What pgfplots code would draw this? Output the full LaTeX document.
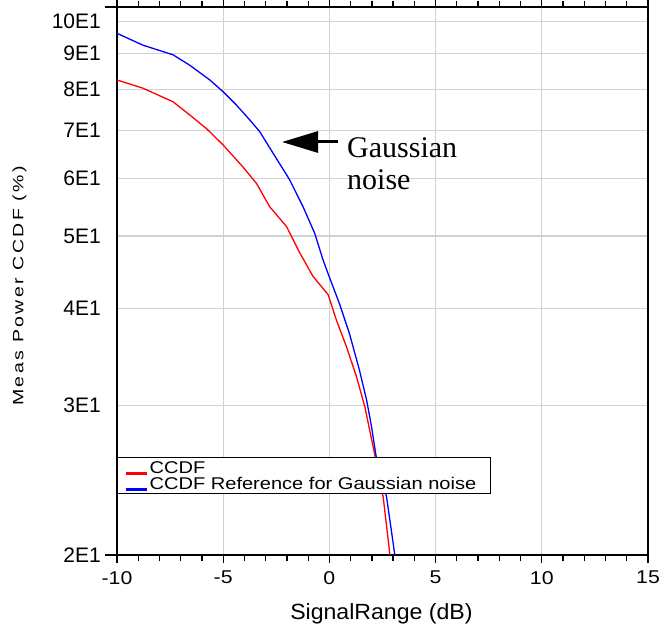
\documentclass[border=0pt]{standalone}
\usepackage{fontspec}
\setmainfont{Liberation Sans}
\usepackage{pgfplots}
\pgfplotsset{compat=1.18}
\usetikzlibrary{arrows.meta}
\newfontfamily\tickyfont{Liberation Sans}
\newfontfamily\tickxfont[FakeStretch=1.15]{Liberation Sans}
\newfontfamily\xlabfont[FakeStretch=1.05]{Liberation Sans}
\newfontfamily\ylabfont[FakeStretch=1.3,LetterSpace=16]{Liberation Sans}
\newfontfamily\legfont[FakeStretch=1.18]{Liberation Sans}
\newfontfamily\annfont{Liberation Serif}
\definecolor{gridgray}{HTML}{D2D2D2}
\begin{document}
\begin{tikzpicture}[x=1pt,y=1pt]
\begin{axis}[
  at={(117pt,73pt)}, anchor=south west,
  scale only axis, width=531pt, height=548pt,
  xmin=-10, xmax=15, ymin=20, ymax=105,
  y coord trafo/.code={\pgfmathparse{log10(#1-5.5)}},
  y coord inv trafo/.code={\pgfmathparse{pow(10,#1)+5.5}},
  xtick={-10,-5,0,5,10,15}, xticklabels={-10,-5,0,5,10,15},
  minor x tick num=4,
  ytick={20,30,40,50,60,70,80,90,100},
  yticklabels={2E1,3E1,4E1,5E1,6E1,7E1,8E1,9E1,10E1},
  /pgf/number format/assume math mode=true,
  tick align=outside,
  major tick length=8pt, minor tick length=6pt,
  xtick style={black, line width=1.3pt},
  ytick style={draw=none},
  axis line style={black, line width=1.5pt},
  grid=major,
  major grid style={gridgray, line width=1.2pt},
  xticklabel style={font=\tickxfont\fontsize{18.5}{20}\selectfont, inner sep=0pt, yshift=-8pt},
  yticklabel style={font=\tickyfont\fontsize{21}{24}\selectfont, inner sep=0pt, xshift=-8pt},
  xlabel={SignalRange (dB)},
  xlabel style={font=\xlabfont\fontsize{22}{24}\selectfont, inner sep=0pt, at={(rel axis cs:0.498,-0.1186)}, anchor=base},
  ylabel={Meas Power CCDF (\%)},
  ylabel style={font=\ylabfont\fontsize{15}{16}\selectfont, inner sep=0pt, at={(rel axis cs:-0.1972,0.4912)}, anchor=north},
  legend style={at={(rel axis cs:0,0.1794)}, anchor=north west, draw=black, line width=1.2pt,
    font=\legfont\fontsize{17}{17}\selectfont, inner xsep=6.5pt, inner ysep=1.5pt, row sep=0pt,
    nodes={inner xsep=1.5pt, inner ysep=0.85pt, text height=13.5pt, text depth=1.5pt, anchor=base west}},
  legend cell align=left,
  legend image code/.code={\draw[#1, line width=3pt] (0pt,0pt) -- (21pt,0pt);},
]
\addplot[red, line width=1.3pt] coordinates {
(-10,82.5) (-8.78,80.3) (-7.36,76.8) (-6.58,73.6) (-5.79,70.4) (-5.01,66.8)
(-4.07,62.2) (-3.43,59.0) (-2.81,54.8) (-2.02,51.5) (-1.39,47.4) (-0.77,44.1)
(-0.06,41.7) (0.33,38.6) (0.81,35.6) (1.28,32.6) (1.67,29.9) (2.06,26.7)
(2.53,23.3) (2.85,20)
};
\addlegendentry{CCDF}
\addplot[blue, line width=1.3pt] coordinates {
(-10,96.2) (-8.78,92.5) (-7.36,89.6) (-6.58,86.6) (-5.63,82.5) (-5.01,79.4)
(-4.38,76.0) (-3.75,72.4) (-3.28,69.7) (-2.65,65.0) (-1.87,59.7) (-1.24,54.8)
(-0.69,50.4) (-0.30,46.4) (0,44.0) (0.47,40.6) (0.94,37.1) (1.41,33.3)
(1.75,30.5) (1.98,28.3) (2.19,26.1) (2.69,23.3) (3.08,20)
};
\addlegendentry{CCDF Reference for Gaussian noise\rule{6pt}{0pt}}
\end{axis}
\draw[black, line width=1.5pt] (105pt,73pt) -- (117pt,73pt);
\draw[black, line width=1.5pt] (105pt,621pt) -- (117pt,621pt);
\draw[black, line width=3pt, -{Triangle[length=36pt,width=21pt]}] (338pt,486pt) -- (282pt,486pt);
\node[font=\annfont\fontsize{30}{32}\selectfont, anchor=base west, inner sep=0pt] at (347pt,470pt) {Gaussian};
\node[font=\annfont\fontsize{30}{32}\selectfont, anchor=base west, inner sep=0pt] at (347pt,438pt) {noise};
\pgfresetboundingbox
\path[use as bounding box] (0pt,0pt) rectangle (660pt,628pt);
\end{tikzpicture}
\end{document}
